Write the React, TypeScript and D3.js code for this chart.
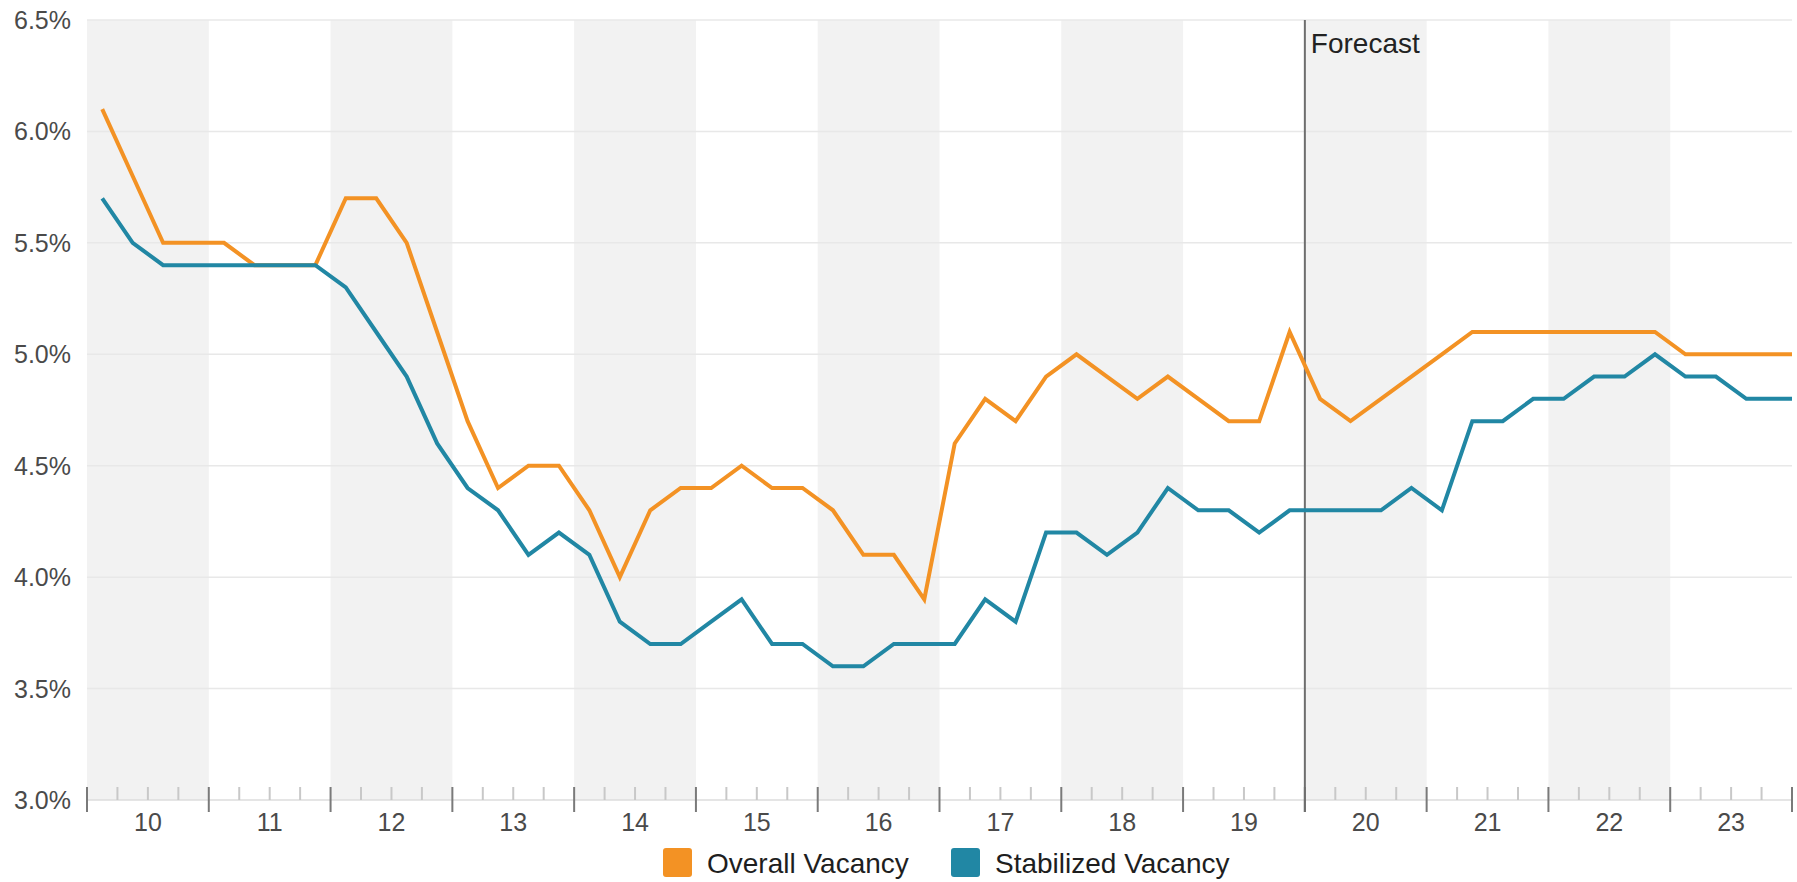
import { useEffect, useRef } from "react";
import * as d3 from "d3";

// Quarterly values, 2010 Q1 .. 2023 Q4, plus 2024 Q1 which is cut off at the right edge
const overallVacancy = [
  6.1, 5.8, 5.5, 5.5, 5.5, 5.4, 5.4, 5.4, 5.7, 5.7, 5.5, 5.1, 4.7, 4.4, 4.5, 4.5,
  4.3, 4.0, 4.3, 4.4, 4.4, 4.5, 4.4, 4.4, 4.3, 4.1, 4.1, 3.9, 4.6, 4.8, 4.7, 4.9,
  5.0, 4.9, 4.8, 4.9, 4.8, 4.7, 4.7, 5.1, 4.8, 4.7, 4.8, 4.9, 5.0, 5.1, 5.1, 5.1,
  5.1, 5.1, 5.1, 5.1, 5.0, 5.0, 5.0, 5.0, 5.0,
];
const stabilizedVacancy = [
  5.7, 5.5, 5.4, 5.4, 5.4, 5.4, 5.4, 5.4, 5.3, 5.1, 4.9, 4.6, 4.4, 4.3, 4.1, 4.2,
  4.1, 3.8, 3.7, 3.7, 3.8, 3.9, 3.7, 3.7, 3.6, 3.6, 3.7, 3.7, 3.7, 3.9, 3.8, 4.2,
  4.2, 4.1, 4.2, 4.4, 4.3, 4.3, 4.2, 4.3, 4.3, 4.3, 4.3, 4.4, 4.3, 4.7, 4.7, 4.8,
  4.8, 4.9, 4.9, 5.0, 4.9, 4.9, 4.8, 4.8, 4.8,
];
const years = [2010, 2011, 2012, 2013, 2014, 2015, 2016, 2017, 2018, 2019, 2020, 2021, 2022, 2023];
const yTicks = [3.0, 3.5, 4.0, 4.5, 5.0, 5.5, 6.0, 6.5];
const forecastStart = 2020;
const seriesNames = ["Overall Vacancy", "Stabilized Vacancy"];
const seriesColors = ["#F39224", "#2187A4"];

const WIDTH = 1797;
const HEIGHT = 882;
const FONT = "'Liberation Sans', Arial, Helvetica, sans-serif";

export default function App() {
  const svgRef = useRef<SVGSVGElement>(null);

  useEffect(() => {
    if (!svgRef.current) return;
    d3.select(svgRef.current).selectAll("*").remove();

    const svg = d3.select(svgRef.current).attr("width", WIDTH).attr("height", HEIGHT);

    const margin = { top: 20, right: 5, bottom: 82, left: 87 };
    const left = margin.left;
    const right = WIDTH - margin.right;
    const top = margin.top;
    const bottom = HEIGHT - margin.bottom;

    const x = d3.scaleLinear().domain([years[0], years[years.length - 1] + 1]).range([left, right]);
    const y = d3.scaleLinear().domain([3.0, 6.5]).range([bottom, top]);

    // alternating year bands
    svg
      .append("g")
      .selectAll("rect")
      .data(years.filter((_, i) => i % 2 === 0))
      .enter()
      .append("rect")
      .attr("x", (d) => x(d))
      .attr("y", top)
      .attr("width", (d) => x(d + 1) - x(d))
      .attr("height", bottom - top)
      .attr("fill", "#f2f2f2");

    // horizontal gridlines
    svg
      .append("g")
      .selectAll("line")
      .data(yTicks)
      .enter()
      .append("line")
      .attr("x1", left)
      .attr("x2", right)
      .attr("y1", (d) => y(d))
      .attr("y2", (d) => y(d))
      .attr("stroke", (d) => (d === 3.0 ? "#dcdcdc" : "#e8e8e8"))
      .attr("stroke-width", 1.5);

    // y labels
    svg
      .append("g")
      .selectAll("text")
      .data(yTicks)
      .enter()
      .append("text")
      .attr("x", 71)
      .attr("y", (d) => y(d))
      .attr("dy", "0.36em")
      .attr("text-anchor", "end")
      .attr("font-family", FONT)
      .attr("font-size", 25)
      .attr("fill", "#4a4a4a")
      .text((d) => `${d.toFixed(1)}%`);

    // quarter ticks (minor) and year ticks (major)
    const quarterTicks: number[] = [];
    years.forEach((yr) => [1, 2, 3].forEach((q) => quarterTicks.push(yr + q / 4)));
    svg
      .append("g")
      .selectAll("line")
      .data(quarterTicks)
      .enter()
      .append("line")
      .attr("x1", (d) => x(d))
      .attr("x2", (d) => x(d))
      .attr("y1", bottom - 13)
      .attr("y2", bottom)
      .attr("stroke", "#c8c8c8")
      .attr("stroke-width", 2);

    const yearTicks = [...years, years[years.length - 1] + 1];
    svg
      .append("g")
      .selectAll("line")
      .data(yearTicks)
      .enter()
      .append("line")
      .attr("x1", (d) => x(d))
      .attr("x2", (d) => x(d))
      .attr("y1", bottom - 13)
      .attr("y2", bottom + 12)
      .attr("stroke", "#7a7a7a")
      .attr("stroke-width", 2);

    // year labels
    svg
      .append("g")
      .selectAll("text")
      .data(years)
      .enter()
      .append("text")
      .attr("x", (d) => x(d + 0.5))
      .attr("y", bottom + 31)
      .attr("text-anchor", "middle")
      .attr("font-family", FONT)
      .attr("font-size", 25)
      .attr("fill", "#4a4a4a")
      .text((d) => String(d % 100));

    // forecast divider
    svg
      .append("line")
      .attr("x1", x(forecastStart))
      .attr("x2", x(forecastStart))
      .attr("y1", top)
      .attr("y2", bottom + 12)
      .attr("stroke", "#6e6e6e")
      .attr("stroke-width", 2);

    svg
      .append("text")
      .attr("x", x(forecastStart) + 6)
      .attr("y", top + 33)
      .attr("font-family", FONT)
      .attr("font-size", 28)
      .attr("fill", "#222")
      .text("Forecast");

    // lines, clipped to the plot area
    svg
      .append("clipPath")
      .attr("id", "plot-clip")
      .append("rect")
      .attr("x", left)
      .attr("y", 0)
      .attr("width", right - left)
      .attr("height", HEIGHT);

    const line = d3
      .line<number>()
      .x((_, i) => x(years[0] + (i + 0.5) / 4))
      .y((d) => y(d));

    [overallVacancy, stabilizedVacancy].forEach((values, k) => {
      svg
        .append("path")
        .datum(values)
        .attr("clip-path", "url(#plot-clip)")
        .attr("fill", "none")
        .attr("stroke", seriesColors[k])
        .attr("stroke-width", 4)
        .attr("stroke-linejoin", "miter")
        .attr("d", line);
    });

    // legend
    const legendX = [663, 951];
    const legend = svg
      .append("g")
      .selectAll("g")
      .data(seriesNames)
      .enter()
      .append("g")
      .attr("transform", (_, i) => `translate(${legendX[i]},848)`);

    legend
      .append("rect")
      .attr("width", 29)
      .attr("height", 29)
      .attr("rx", 3)
      .attr("fill", (_, i) => seriesColors[i]);

    legend
      .append("text")
      .attr("x", 44)
      .attr("y", 25)
      .attr("font-family", FONT)
      .attr("font-size", 28)
      .attr("fill", "#1e1e1e")
      .text((d) => d);
  }, []);

  return (
    <div style={{ position: "absolute", left: 0, top: 0 }}>
      <svg ref={svgRef} style={{ display: "block" }} />
    </div>
  );
}
